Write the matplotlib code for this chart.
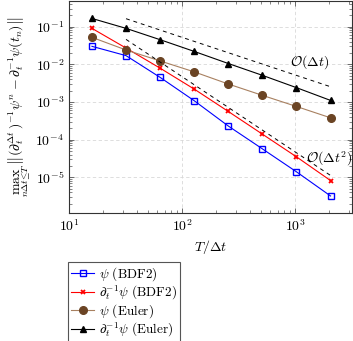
import numpy as np
import matplotlib
matplotlib.use('Agg')
import matplotlib.pyplot as plt

plt.rcParams.update({
    'font.family': 'serif',
    'font.serif': ['cmr10'],
    'mathtext.fontset': 'cm',
    'axes.formatter.use_mathtext': True,
    'font.size': 10,
})

# data
N = [16, 32, 64, 128, 256, 512, 1024, 2048]
psi_bdf2 = [0.030, 0.017, 0.0045, 0.00108, 2.3e-4, 5.7e-5, 1.4e-5, 3.2e-6]
ipsi_bdf2 = [0.090, 0.027, 0.0079, 0.0022, 5.6e-4, 1.4e-4, 3.5e-5, 8.2e-6]
psi_euler = [0.052, 0.024, 0.0123, 0.0063, 0.0030, 0.0015, 0.00076, 0.00038]
ipsi_euler = [0.165, 0.090, 0.045, 0.022, 0.0105, 0.0051, 0.0024, 0.0011]

# reference slopes
ref_N = [32, 2048]
ref1 = [5.2 / n for n in ref_N]
ref2 = [47.0 / n**2 for n in ref_N]

fig = plt.figure(figsize=(3.53, 3.41), dpi=100)
ax = fig.add_axes([0.195, 0.375, 0.802, 0.622])

ax.plot(N, psi_bdf2, color='blue', lw=0.8, marker='s', ms=4.5, mfc='none', mew=1.0,
        label=r'$\psi$ (BDF2)')
ax.plot(N, ipsi_bdf2, color='red', lw=0.8, marker='x', ms=3.5, mew=1.3,
        label=r'$\partial_t^{-1}\psi$ (BDF2)')
ax.plot(N, psi_euler, color='#a88060', lw=0.8, marker='o', ms=5.5, mfc='#6b4424', mec='#6b4424',
        label=r'$\psi$ (Euler)')
ax.plot(N, ipsi_euler, color='black', lw=0.8, marker='^', ms=5, mfc='black',
        label=r'$\partial_t^{-1}\psi$ (Euler)')

ax.plot(ref_N, ref1, color='black', lw=0.7, ls=(0, (4, 4)))
ax.plot(ref_N, ref2, color='black', lw=0.7, ls=(0, (4, 4)))
ax.text(1330, 0.0112, r'$\mathcal{O}(\Delta t)$', ha='center', va='center', fontsize=10)
ax.text(2000, 3.2e-5, r'$\mathcal{O}(\Delta t^2)$', ha='center', va='center', fontsize=10)

ax.set_xscale('log')
ax.set_yscale('log')
ax.set_xlim(10, 10**3.5)
ax.set_ylim(10**-5.95, 10**-0.32)
ax.grid(True, which='major', ls=(0, (4, 3)), color='#d8d8d8', lw=0.6)
ax.tick_params(which='both', direction='in', top=True, right=True, color='#555555')
ax.tick_params(which='major', length=3.5, width=0.6)
ax.tick_params(which='minor', length=2, width=0.5)
for s in ax.spines.values():
    s.set_linewidth(0.8)
    s.set_color('#333333')

ax.set_xlabel(r'$T/\Delta t$', labelpad=3)
ax.set_ylabel(r'$\max_{n\Delta t\leq T}\,\left\|(\partial_t^{\Delta t})^{-1}\psi^n - \partial_t^{-1}\psi(t_n)\right\|$',
              labelpad=2)

leg = ax.legend(loc='upper left', bbox_to_anchor=(0.193, 0.232), bbox_transform=fig.transFigure,
                borderaxespad=0, fancybox=False, edgecolor='#555555', framealpha=1,
                fontsize=9.5, handlelength=1.7, handletextpad=0.4, labelspacing=0.05,
                borderpad=0.25)
leg.get_frame().set_linewidth(0.8)

fig.savefig('out.png', dpi=100)
